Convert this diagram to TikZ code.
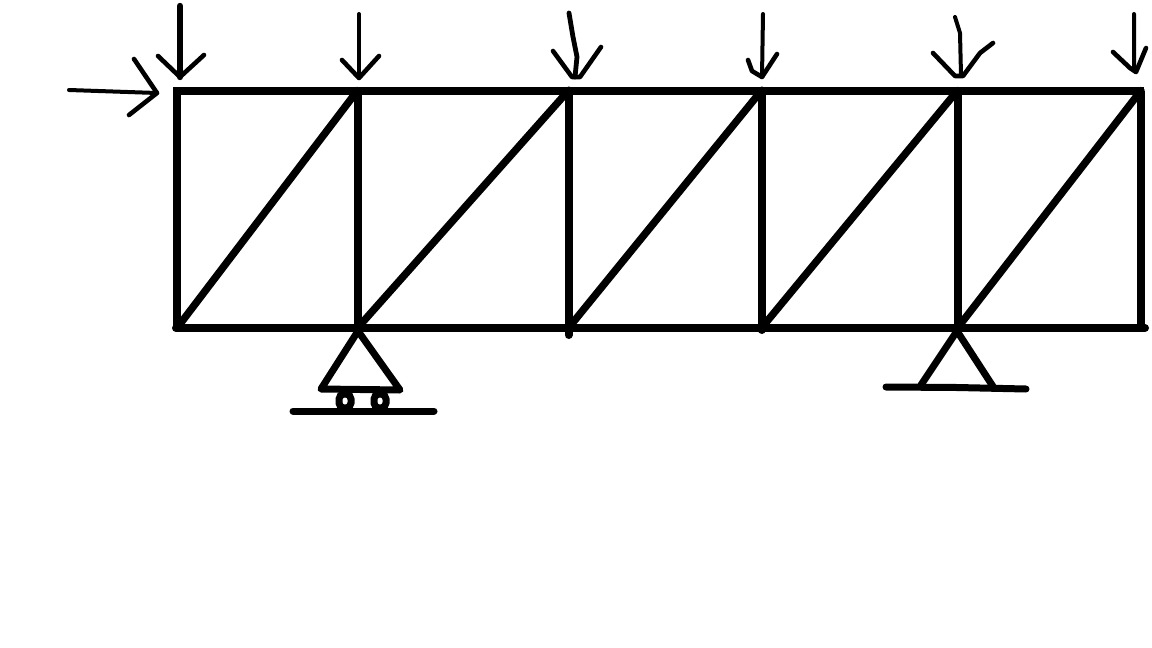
\documentclass[tikz,border=0pt]{standalone}
\usepackage{tikz}
\usetikzlibrary{calc}
\tikzset{
	chord/.style={line width=8pt, line cap=butt},
	brace/.style={line width=7.4pt, line cap=round},
	support/.style={line width=7pt, line cap=round, line join=round},
	shaft/.style={line width=4pt, line cap=round, line join=round},
	head/.style={line width=4.6pt, line cap=round, line join=round},
	roller/.style={draw, line width=7pt, rounded corners=5pt, minimum width=12pt, minimum height=14pt, inner sep=0pt}
}
\begin{document}
\begin{tikzpicture}[x=1pt, y=-1pt]
	\useasboundingbox (0,0) rectangle (1152,648);

		% nodes - for the top chord %
		\coordinate (t0) at (177,90.5);
		\coordinate (t1) at (357.5,90.5);
		\coordinate (t2) at (568.5,90.5);
		\coordinate (t3) at (761.5,90.5);
		\coordinate (t4) at (957.5,90.5);
		\coordinate (t5) at (1141,90.5);
		\coordinate (tl) at (173,90.5);
		\coordinate (tr) at (1144,90.5);

		% nodes - for the bottom chord %
		\coordinate (b0) at (177,328);
		\coordinate (b1) at (357.5,328);
		\coordinate (b2) at (568.5,335);
		\coordinate (b3) at (761.5,330);
		\coordinate (b4) at (957.5,328);
		\coordinate (b5) at (1141,328);
		\coordinate (bl) at (176,328);
		\coordinate (br) at (1145,328);

		% chords and verticals %
		\draw[chord] (tl) -- (tr);
		\draw[chord, line cap=round] (bl) -- (br);
		\draw[chord] (t0) -- (b0);
		\draw[chord] (t1) -- (b1);
		\draw[chord, line cap=round] (t2) -- (b2);
		\draw[chord, line cap=round] (t3) -- (b3);
		\draw[chord] (t4) -- (b4);
		\draw[chord] (t5) -- (b5);

		% diagonals %
		\draw[brace] (b0) -- (t1);
		\draw[brace] (b1) -- (t2);
		\draw[brace] (b2 |- b0) -- (t3);
		\draw[brace] (b3 |- b0) -- (t4);
		\draw[brace] (b4) -- (t5);

		% roller support %
		\coordinate (ra) at (358,331);
		\coordinate (rl) at (321,389);
		\coordinate (rr) at (400,390);
		\coordinate (gl) at (293,411);
		\coordinate (gr) at (434,411);
		\draw[support] (ra) -- (rl) -- (rr) -- cycle;
		\node[roller] (w1) at (345,401) {};
		\node[roller] (w2) at (380,401) {};
		\draw[support] (gl) -- (gr);

		% pin support %
		\coordinate (pa) at (957,331);
		\coordinate (pl) at (921,385);
		\coordinate (pr) at (994,388);
		\coordinate (hl) at (886,387);
		\coordinate (hm) at (957,387.5);
		\coordinate (hr) at (1026,389);
		\draw[support] (pl) -- (pa) -- (pr);
		\draw[support] (hl) -- (hm) -- (hr);

		% horizontal load %
		\coordinate (h0) at (69,90);
		\coordinate (h1) at (157,93);
		\coordinate (h2) at (134,59);
		\coordinate (h3) at (129,115);
		\draw[shaft] (h0) -- (h1);
		\draw[head] (h2) -- (h1) -- (h3);

		% load 1 %
		\coordinate (a0) at (180,6);
		\coordinate (a1) at (180,77);
		\coordinate (a2) at (158,56);
		\coordinate (a3) at (204,55);
		\draw[line width=6.4pt, line cap=round] (a0) -- (a1);
		\draw[head] (a2) -- (a1) -- (a3);

		% load 2 %
		\coordinate (c0) at (359,14);
		\coordinate (c1) at (359,78);
		\coordinate (c2) at (342,60);
		\coordinate (c3) at (379,56);
		\draw[shaft] (c0) -- (c1);
		\draw[head] (c2) -- (c1) -- (c3);

		% load 3 %
		\coordinate (d0) at (569,13);
		\coordinate (d1) at (573,37);
		\coordinate (d2) at (577,57);
		\coordinate (d3) at (575,77);
		\coordinate (d4) at (553,51);
		\coordinate (d5) at (572,77);
		\coordinate (d6) at (580,77);
		\coordinate (d7) at (601,47);
		\draw[shaft, line width=4.8pt] (d0) -- (d1) -- (d2) -- (d3);
		\draw[head] (d4) -- (d5) -- (d6) -- (d7);

		% load 4 %
		\coordinate (e0) at (763,14);
		\coordinate (e1) at (762,77);
		\coordinate (e2) at (748,60);
		\coordinate (e3) at (752,71);
		\coordinate (e4) at (777,54);
		\draw[shaft] (e0) -- (e1);
		\draw[head] (e2) -- (e3) -- (e1) -- (e4);

		% load 5 %
		\coordinate (f0) at (955,17);
		\coordinate (f1) at (960,33);
		\coordinate (f2) at (961,75);
		\coordinate (f3) at (933,53);
		\coordinate (f4) at (955,76);
		\coordinate (f5) at (963,76);
		\coordinate (f6) at (980,53);
		\coordinate (f7) at (993,43);
		\draw[shaft] (f0) -- (f1) -- (f2);
		\draw[head] (f3) -- (f4) -- (f5) -- (f6) -- (f7);

		% load 6 %
		\coordinate (k0) at (1134,14);
		\coordinate (k1) at (1134,67);
		\coordinate (k2) at (1136,72);
		\coordinate (k3) at (1113,52);
		\coordinate (k4) at (1130,68);
		\coordinate (k5) at (1146,48);
		\draw[shaft] (k0) -- (k1) -- (k2);
		\draw[head] (k3) -- (k4) -- (k2) -- (k5);

	\end{tikzpicture}
\end{document}
